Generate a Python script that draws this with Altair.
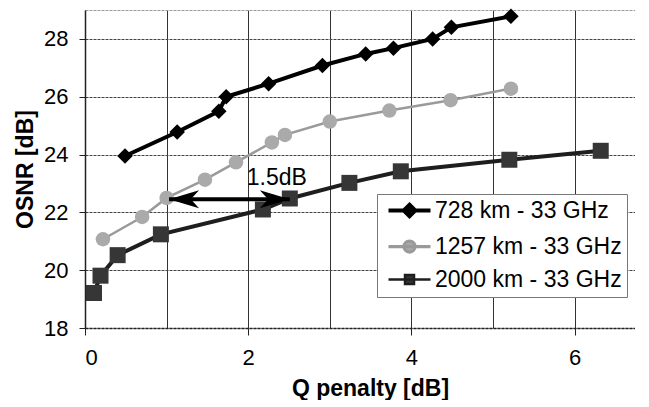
import altair as alt
import pandas as pd

# ---------------- data ----------------
series_names = ["728 km - 33 GHz", "1257 km - 33 GHz", "2000 km - 33 GHz"]

q_728 = [0.49, 1.13, 1.64, 1.73, 2.25, 2.91, 3.44, 3.78, 4.26, 4.49, 5.22]
osnr_728 = [23.95, 24.78, 25.5, 26.0, 26.45, 27.08, 27.48, 27.68, 28.0, 28.4, 28.78]

q_1257 = [0.22, 0.70, 1.0, 1.47, 1.85, 2.29, 2.45, 3.0, 3.73, 4.48, 5.22]
osnr_1257 = [21.07, 21.84, 22.5, 23.13, 23.73, 24.42, 24.68, 25.14, 25.52, 25.88, 26.28]

q_2000 = [0.11, 0.19, 0.40, 0.93, 2.18, 2.51, 3.24, 3.87, 5.20, 6.32]
osnr_2000 = [19.21, 19.81, 20.52, 21.24, 22.1, 22.48, 23.02, 23.42, 23.82, 24.13]

# annotation: double arrow marking the 1.5 dB penalty difference
arrow_q = [1.03, 2.51]
arrow_osnr = 22.45
note_text = "1.5dB"
note_q = 2.35
note_osnr = 22.96

x_ticks = [0, 1, 2, 3, 4, 5, 6]
y_ticks = [18, 20, 22, 24, 26, 28, 29]

# ---------------- styles ----------------
FONT = "Liberation Sans"
line_colors = ["#000000", "#9a9a9a", "#1e1e1e"]
point_colors = ["#000000", "#aaaaaa", "#363636"]
line_widths = [4, 2.5, 4]
point_shapes = ["diamond", "circle", "square"]
point_sizes = [240, 210, 256]
legend_paths = [
    "M-4.2,0H4.2M0,-1.15L1.15,0L0,1.15L-1.15,0Z",
    "M-4.2,0H4.2M-1.1,0A1.1,1.1,0,1,0,1.1,0A1.1,1.1,0,1,0,-1.1,0Z",
    "M-4.2,0H4.2M-0.9,-0.9H0.9V0.9H-0.9Z",
]
X_DOMAIN = [0, 6.74]

x_enc = alt.X(
    "q:Q",
    scale=alt.Scale(domain=X_DOMAIN, nice=False, zero=False),
    axis=alt.Axis(
        values=x_ticks,
        format="d",
        labelExpr="datum.value % 2 == 0 ? datum.label : ''",
        tickOpacity={"condition": {"test": "datum.value % 2 == 1", "value": 0}, "value": 1},
        title="Q penalty [dB]",
        titleX=285,
    ),
)
y_enc = alt.Y(
    "osnr:Q",
    scale=alt.Scale(domain=[18, 29], nice=False, zero=False),
    axis=alt.Axis(
        values=y_ticks,
        labelExpr="datum.value < 29 ? datum.label : ''",
        tickOpacity={"condition": {"test": "datum.value > 28.5", "value": 0}, "value": 1},
        gridColor={"condition": {"test": "datum.value > 28.5", "value": "#9a9a9a"}, "value": "#444444"},
        gridDash=[3, 1],
        title="OSNR [dB]",
    ),
)

layers = []
for name, qs, ys, lc, pc, lw, shp, sz in zip(
    series_names,
    [q_728, q_1257, q_2000],
    [osnr_728, osnr_1257, osnr_2000],
    line_colors,
    point_colors,
    line_widths,
    point_shapes,
    point_sizes,
):
    df = pd.DataFrame({"q": qs, "osnr": ys, "series": name})
    base = alt.Chart(df)
    layers.append(base.mark_line(color=lc, strokeWidth=lw).encode(x=x_enc, y=y_enc))
    layers.append(
        base.mark_point(shape=shp, filled=True, color=pc, size=sz, opacity=1).encode(x=x_enc, y=y_enc)
    )

# arrow
arrow_df = pd.DataFrame({"q1": [arrow_q[0]], "q2": [arrow_q[1]], "osnr": [arrow_osnr]})
layers.append(
    alt.Chart(arrow_df)
    .mark_rule(color="black", strokeWidth=4)
    .encode(x=alt.X("q1:Q", scale=alt.Scale(domain=X_DOMAIN, nice=False)), x2="q2:Q", y=y_enc)
)
head_df = pd.DataFrame({"q": arrow_q, "osnr": [arrow_osnr, arrow_osnr], "side": ["l", "r"]})
layers.append(
    alt.Chart(head_df)
    .transform_filter("datum.side == 'l'")
    .mark_point(shape="M0,0L2,-0.6L1.45,0L2,0.6Z", filled=True, color="black", size=900, opacity=1)
    .encode(x=x_enc, y=y_enc)
)
layers.append(
    alt.Chart(head_df)
    .transform_filter("datum.side == 'r'")
    .mark_point(shape="M0,0L-2,-0.6L-1.45,0L-2,0.6Z", filled=True, color="black", size=900, opacity=1)
    .encode(x=x_enc, y=y_enc)
)

note_df = pd.DataFrame({"q": [note_q], "osnr": [note_osnr], "t": [note_text]})
layers.append(
    alt.Chart(note_df)
    .mark_text(font=FONT, fontSize=23, align="center", baseline="alphabetic", color="black")
    .encode(x=x_enc, y=y_enc, text="t:N")
)

# legend-only layer (no marks drawn)
leg_df = pd.DataFrame({"q": [0.0] * 3, "osnr": [18.0] * 3, "series": series_names})
leg = alt.Legend(title=None)
layers.append(
    alt.Chart(leg_df)
    .transform_filter("false")
    .mark_point(size=144, opacity=1, filled=True)
    .encode(
        x=x_enc,
        y=y_enc,
        fill=alt.Fill("series:N", scale=alt.Scale(domain=series_names, range=point_colors), legend=leg, sort=series_names),
        stroke=alt.Stroke("series:N", scale=alt.Scale(domain=series_names, range=line_colors), legend=leg, sort=series_names),
        shape=alt.Shape("series:N", scale=alt.Scale(domain=series_names, range=legend_paths), legend=leg, sort=series_names),
        strokeWidth=alt.StrokeWidth("series:N", scale=alt.Scale(domain=series_names, range=line_widths), legend=leg, sort=series_names),
    )
)

chart = (
    alt.layer(*layers)
    .properties(width=550, height=318, padding={"left": 6, "top": 0, "right": 0, "bottom": 0})
    .configure_view(stroke=None)
    .configure_axis(
        labelFont=FONT,
        labelFontSize=22,
        labelColor="black",
        titleFont=FONT,
        titleFontSize=23,
        titleFontWeight="bold",
        titleColor="black",
        domainColor="#222222",
        tickColor="#222222",
        gridOpacity=1,
    )
    .configure_axisX(
        tickSize=7, labelPadding=12, titlePadding=9, gridColor="#333333", domainDash=[3, 1], domainWidth=1.5
    )
    .configure_axisY(tickSize=6, labelPadding=11, titlePadding=6, domainWidth=1.5)
    .configure_legend(
        orient="none",
        legendX=292,
        legendY=184,
        padding=5,
        fillColor="white",
        strokeColor="#777777",
        symbolOffset=16,
        labelOffset=14,
        labelFont=FONT,
        labelFontSize=23,
        labelColor="black",
        rowPadding=9,
        labelLimit=400,
    )
)

chart.save("out.html", embed_options={"renderer": "svg", "actions": False})
